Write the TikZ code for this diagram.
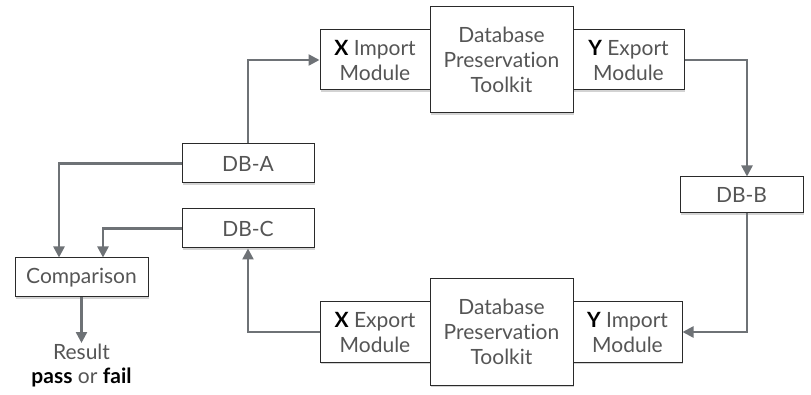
\documentclass[tikz,border=0pt]{standalone}
\usepackage{fontspec}
\setmainfont{Lato}[Ligatures={NoCommon,NoRare,NoDiscretionary}]
\usetikzlibrary{shadows,arrows.meta,calc}
\definecolor{txt}{HTML}{555555}
\definecolor{lnk}{HTML}{6E7276}
\definecolor{edge}{HTML}{2A2A2A}
\tikzset{
  box/.style={draw=edge, line width=1pt, fill=white, align=center, text=txt,
    inner sep=0pt, font=\fontsize{21}{25}\selectfont,
    drop shadow={opacity=0.35, shadow xshift=1.2pt, shadow yshift=-1.8pt}},
  arr/.style={draw=lnk, line width=2.4pt, -{Triangle[length=11pt,width=11pt]}},
  lab/.style={text=txt, align=center, inner sep=1pt, font=\fontsize{21}{24}\selectfont}
}
\newcommand{\hl}[1]{\textcolor{black}{\bfseries #1}}
\begin{document}
\begin{tikzpicture}[x=1pt,y=-1pt]
\useasboundingbox (0,0) rectangle (811,395);
% top row
\node[box, minimum width=110pt, minimum height=60pt] (xim) at (375,60) {\hl{X} Import\\Module};
\node[box, minimum width=111pt, minimum height=60pt] (yex) at (628.5,60) {\hl{Y} Export\\Module};
\node[box, minimum width=143pt, minimum height=106pt] (dpt1) at (501.5,60) {Database\\Preservation\\Toolkit};
% databases
\node[box, minimum width=132pt, minimum height=39pt] (dba) at (248,163.5) {DB-A};
\node[box, minimum width=132pt, minimum height=39pt] (dbc) at (248,228.5) {DB-C};
\node[box, minimum width=123pt, minimum height=36pt] (dbb) at (741.5,195) {DB-B};
% bottom row
\node[box, minimum width=110pt, minimum height=60pt] (xex) at (375,332) {\hl{X} Export\\Module};
\node[box, minimum width=109pt, minimum height=60pt] (yim) at (627.5,332) {\hl{Y} Import\\Module};
\node[box, minimum width=143pt, minimum height=106pt] (dpt2) at (501.5,332) {Database\\Preservation\\Toolkit};
% comparison
\node[box, minimum width=133pt, minimum height=39pt] (cmp) at (81.5,277.5) {Comparison};
\node[lab, anchor=north] (res) at (81.5,343) {Result\\\hl{pass} or \hl{fail}};
% connectors
\draw[arr] (dba.north) |- (xim.west);
\draw[arr] (yex.east) -| ([xshift=5.5pt]dbb.north);
\draw[arr] ([xshift=5.5pt]dbb.south) |- (yim.east);
\draw[arr] (xex.west) -| (dbc.south);
\draw[arr] (dba.west) -| ([xshift=-22.5pt]cmp.north);
\draw[arr] (dbc.west) -| ([xshift=21.5pt]cmp.north);
\draw[arr] (cmp.south) -- (res.north);
\end{tikzpicture}
\end{document}
